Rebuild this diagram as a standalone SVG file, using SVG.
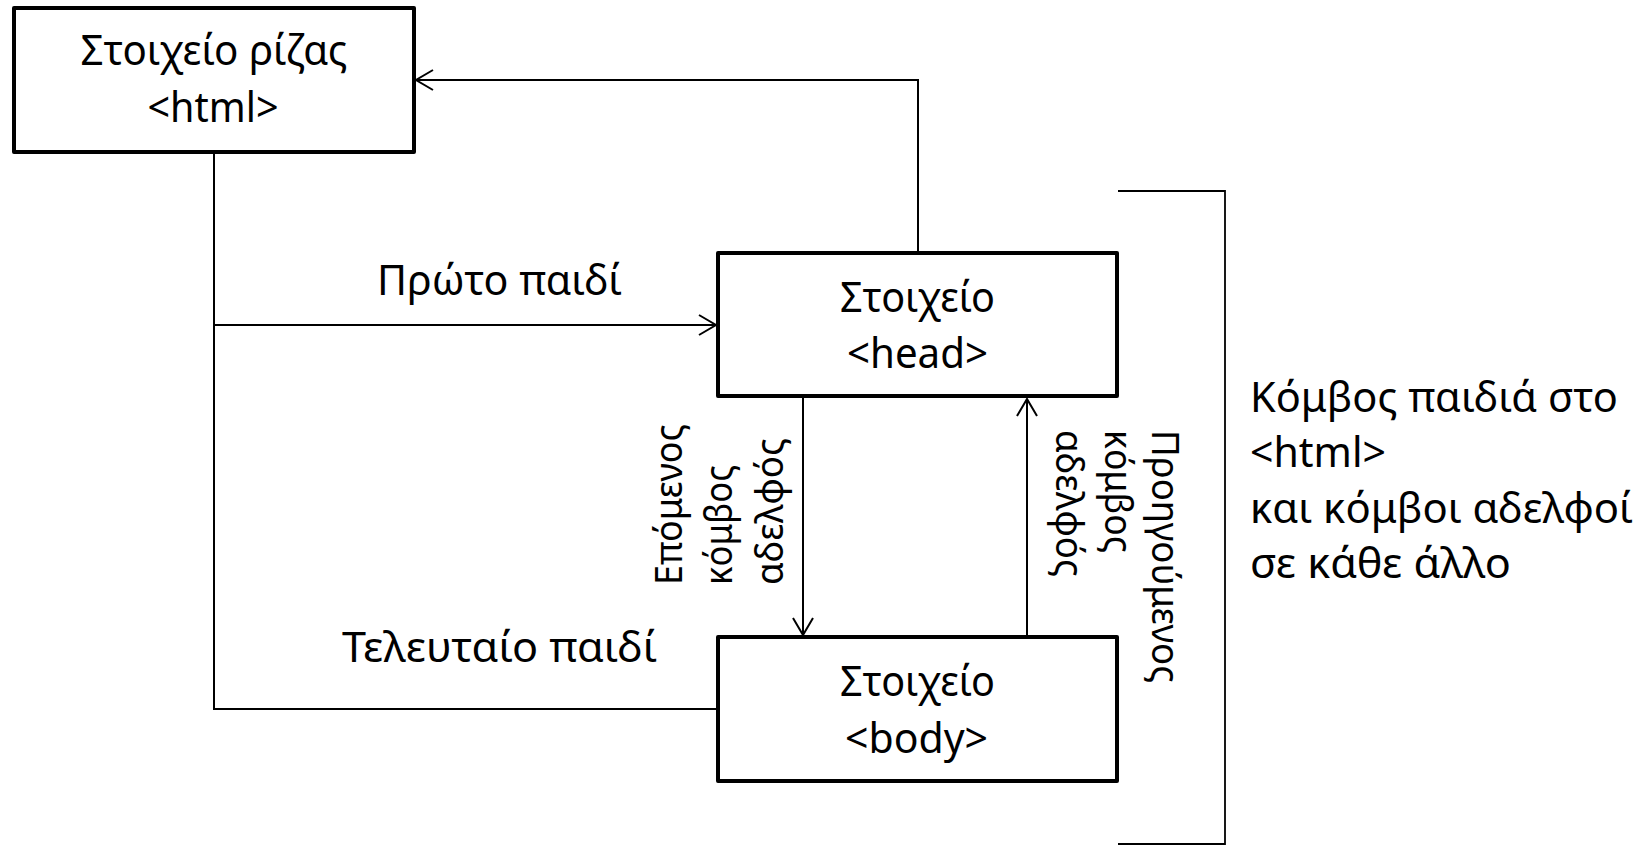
<svg xmlns="http://www.w3.org/2000/svg" width="1652" height="850" viewBox="0 0 1652 850">
  <style>
    .box { fill: #ffffff; stroke: #000000; stroke-width: 4; stroke-linejoin: round; }
    .wire { fill: none; stroke: #000000; stroke-width: 2; }
    .t { font-family: "Noto Sans", "Open Sans", "DejaVu Sans", sans-serif; fill: #000000; }
    .main { font-size: 42px; }
    .rot { font-size: 39px; }
    .mid { text-anchor: middle; }
  </style>
  <defs>
    <marker id="arr" viewBox="0 0 20 22" refX="18" refY="11" markerWidth="20" markerHeight="22" markerUnits="userSpaceOnUse" orient="auto">
      <path d="M1,1 L18,11 L1,21" fill="none" stroke="#000000" stroke-width="2"/>
    </marker>
  </defs>
  <rect width="1652" height="850" fill="#ffffff"/>

  <g id="connectors">
    <!-- head -> root (parent) -->
    <polyline class="wire" points="918,252 918,80 416,80" marker-end="url(#arr)"/>
    <!-- root -> head (first child) -->
    <line class="wire" x1="214" y1="325" x2="716" y2="325" marker-end="url(#arr)"/>
    <!-- root -> body (last child) -->
    <polyline class="wire" points="214,153 214,709 716,709"/>
    <!-- head -> body next sibling -->
    <line class="wire" x1="803" y1="398" x2="803" y2="635" marker-end="url(#arr)"/>
    <!-- body -> head previous sibling -->
    <line class="wire" x1="1027" y1="636" x2="1027" y2="399" marker-end="url(#arr)"/>
    <!-- bracket -->
    <polyline class="wire" points="1118,191 1225,191 1225,844 1118,844" style="stroke-width:1.8"/>
  </g>

  <g id="root">
    <rect class="box" x="14" y="8" width="400" height="144"/>
    <text class="t main mid" x="214" y="65" textLength="267" lengthAdjust="spacingAndGlyphs">Στοιχείο ρίζας</text>
    <text class="t main mid" x="213" y="122" textLength="131" lengthAdjust="spacingAndGlyphs">&lt;html&gt;</text>
  </g>

  <g id="head">
    <rect class="box" x="718" y="253" width="399" height="143"/>
    <text class="t main mid" x="917.5" y="312" textLength="155" lengthAdjust="spacingAndGlyphs">Στοιχείο</text>
    <text class="t main mid" x="917.5" y="368" textLength="141" lengthAdjust="spacingAndGlyphs">&lt;head&gt;</text>
  </g>

  <g id="body">
    <rect class="box" x="718" y="637" width="399" height="144"/>
    <text class="t main mid" x="917.5" y="696" textLength="155" lengthAdjust="spacingAndGlyphs">Στοιχείο</text>
    <text class="t main mid" x="916.5" y="753" textLength="143" lengthAdjust="spacingAndGlyphs">&lt;body&gt;</text>
  </g>

  <g id="label-first-child">
    <text class="t main" x="377" y="295" textLength="245" lengthAdjust="spacingAndGlyphs">Πρώτο παιδί</text>
  </g>

  <g id="label-last-child">
    <text class="t main" x="342" y="662" textLength="315" lengthAdjust="spacingAndGlyphs">Τελευταίο παιδί</text>
  </g>

  <g id="label-next-sibling">
    <text class="t rot" transform="translate(682,585) rotate(-90)" textLength="161" lengthAdjust="spacingAndGlyphs">Επόμενος</text>
    <text class="t rot" transform="translate(732,585) rotate(-90)" textLength="120" lengthAdjust="spacingAndGlyphs">κόμβος</text>
    <text class="t rot" transform="translate(783,585) rotate(-90)" textLength="147" lengthAdjust="spacingAndGlyphs">αδελφός</text>
  </g>

  <g id="label-previous-sibling">
    <text class="t rot" transform="translate(1152,430) rotate(90)" textLength="253" lengthAdjust="spacingAndGlyphs">Προηγούμενος</text>
    <text class="t rot" transform="translate(1105,430) rotate(90)" textLength="123" lengthAdjust="spacingAndGlyphs">κόμβος</text>
    <text class="t rot" transform="translate(1056,430) rotate(90)" textLength="147" lengthAdjust="spacingAndGlyphs">αδελφός</text>
  </g>

  <g id="label-siblings">
    <text class="t main" x="1250" y="412" textLength="368" lengthAdjust="spacingAndGlyphs">Κόμβος παιδιά στο</text>
    <text class="t main" x="1250" y="467" textLength="136" lengthAdjust="spacingAndGlyphs">&lt;html&gt;</text>
    <text class="t main" x="1250" y="523" textLength="383" lengthAdjust="spacingAndGlyphs">και κόμβοι αδελφοί</text>
    <text class="t main" x="1250" y="578" textLength="261" lengthAdjust="spacingAndGlyphs">σε κάθε άλλο</text>
  </g>
</svg>
